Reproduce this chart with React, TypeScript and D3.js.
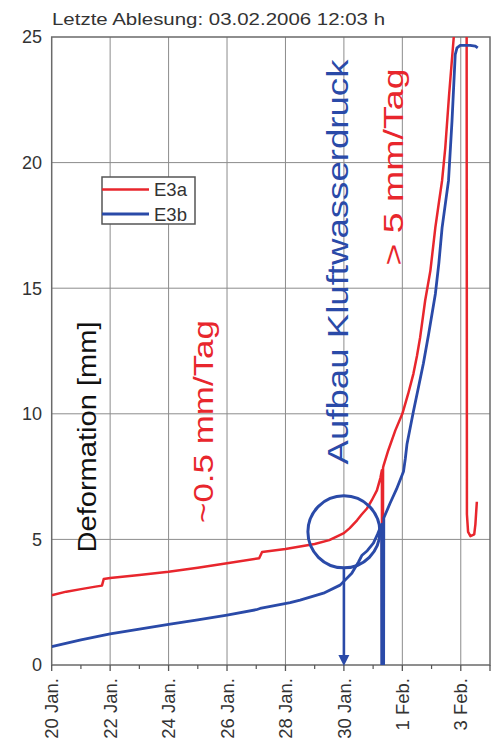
import React from "react";
import * as d3 from "d3";

// ---- data (days since 20 Jan 2006 00:00, deformation in mm) ----
const xTickDays = [0, 2, 4, 6, 8, 10, 12, 14];
const xTickLabels = ["20 Jan.", "22 Jan.", "24 Jan.", "26 Jan.", "28 Jan.", "30 Jan.", "1 Feb.", "3 Feb."];
const xMinorDays = [1, 3, 5, 7, 9, 11, 13];
const yTicks = [0, 5, 10, 15, 20, 25];

const e3aT = [0, 0.5, 1.0, 1.5, 1.72, 1.78, 2.0, 3.0, 4.0, 5.0, 6.0, 7.1, 7.2, 8.0, 8.5, 9.0, 9.5, 10.0, 10.2, 10.45, 10.6, 10.79, 10.95, 11.13, 11.25, 11.3, 11.31, 11.33, 11.34, 11.36, 11.52, 11.76, 12.0, 12.2, 12.38, 12.5, 12.61, 12.78, 12.96, 13.13, 13.25, 13.36, 13.47, 13.6, 13.76, 13.85, 14.2, 14.21, 14.25, 14.33, 14.46, 14.5, 14.55];
const e3aV = [2.78, 2.92, 3.02, 3.12, 3.16, 3.42, 3.46, 3.58, 3.71, 3.87, 4.05, 4.25, 4.5, 4.62, 4.72, 4.82, 4.97, 5.25, 5.45, 5.76, 5.98, 6.23, 6.55, 6.95, 7.45, 7.75, 0, 0, 7.85, 7.95, 8.55, 9.34, 10.0, 10.8, 11.6, 12.3, 13.05, 14.5, 15.7, 17.42, 18.4, 19.28, 20.6, 22.7, 25.0, 27, 27, 6.0, 5.3, 5.13, 5.2, 5.6, 6.5];

const e3bT = [0, 1, 2, 3, 4, 5, 6, 7, 7.13, 8.16, 8.5, 9.3, 9.87, 10.27, 10.5, 10.62, 10.7, 10.8, 11.01, 11.15, 11.29, 11.295, 11.36, 11.365, 11.58, 11.8, 12.04, 12.1, 12.16, 12.38, 12.55, 12.72, 12.9, 13.13, 13.25, 13.36, 13.58, 13.7, 13.81, 13.87, 13.98, 14.32, 14.5, 14.58];
const e3bV = [0.73, 1.0, 1.24, 1.43, 1.62, 1.8, 1.99, 2.2, 2.25, 2.48, 2.58, 2.86, 3.18, 3.65, 4.1, 4.37, 4.45, 4.55, 4.85, 5.2, 5.6, 0, 0, 5.85, 6.44, 7.0, 7.7, 8.2, 8.8, 10.1, 11.05, 12.0, 13.18, 14.77, 16.0, 17.4, 19.28, 21.66, 24.3, 24.57, 24.67, 24.67, 24.64, 24.57];

const seriesNames = ["E3a", "E3b"];
const titleText = "Letzte Ablesung: 03.02.2006 12:03 h";
const yTitle = "Deformation [mm]";
const noteSlow = "~0.5 mm/Tag";
const noteFast = "> 5 mm/Tag";
const noteWater = "Aufbau Kluftwasserdruck";
const circleAt = { t: 10, v: 5.3 };

const RED = "#e8262d";
const BLUE = "#2a4aa8";
const FONT = "'Liberation Sans', Arial, Helvetica, sans-serif";

export default function App() {
  const W = 496, H = 748;
  const left = 51.7, right = 490, top = 37, bottom = 665;
  const x = d3.scaleLinear().domain([0, 15]).range([left, right]);
  const y = d3.scaleLinear().domain([0, 25]).range([bottom, top]);

  const line = d3.line<[number, number]>().x(d => x(d[0])).y(d => y(d[1]));
  const redPts: [number, number][] = e3aT.map((t, i) => [t, e3aV[i]]);
  const bluePts: [number, number][] = e3bT.map((t, i) => [t, e3bV[i]]);

  const cx = x(circleAt.t), cy = y(circleAt.v), r = 36;

  return (
    <svg width={W} height={H} style={{ position: "absolute", left: 0, top: 0, background: "#fff" }} fontFamily={FONT}>
      <defs>
        <clipPath id="plot">
          <rect x={left} y={top} width={right - left} height={bottom - top} />
        </clipPath>
      </defs>
      {/* grid */}
      {xTickDays.slice(1).map(d => (
        <line key={"gx" + d} x1={x(d)} x2={x(d)} y1={top} y2={bottom} stroke="#8c8c8c" strokeWidth={1} />
      ))}
      {yTicks.slice(1, -1).map(v => (
        <line key={"gy" + v} x1={left} x2={right} y1={y(v)} y2={y(v)} stroke="#8c8c8c" strokeWidth={1} />
      ))}
      {/* frame */}
      <rect x={left} y={top} width={right - left} height={bottom - top} fill="none" stroke="#6a6a6a" strokeWidth={1.5} />
      {/* x ticks */}
      {xTickDays.map(d => (
        <line key={"tx" + d} x1={x(d)} x2={x(d)} y1={bottom} y2={bottom + 6} stroke="#555" strokeWidth={1.3} />
      ))}
      {xMinorDays.map(d => (
        <line key={"mx" + d} x1={x(d)} x2={x(d)} y1={bottom} y2={bottom + 4} stroke="#555" strokeWidth={1.2} />
      ))}
      <line x1={x(15)} x2={x(15)} y1={bottom} y2={bottom + 6} stroke="#555" strokeWidth={1.3} />
      {xTickDays.map((d, i) => (
        <text key={"lx" + d} transform={`translate(${x(d)},${678}) rotate(-90)`} textAnchor="end" dy="0.36em" fontSize={18.5} fill="#333">
          {xTickLabels[i]}
        </text>
      ))}
      {/* y ticks */}
      {yTicks.map(v => (
        <text key={"ly" + v} x={42} y={y(v)} dy="0.36em" textAnchor="end" fontSize={18} fill="#333">{v}</text>
      ))}
      {/* title */}
      <text x={52} y={25} fontSize={16.5} fill="#333" textLength={333} lengthAdjust="spacingAndGlyphs">{titleText}</text>
      {/* y title */}
      <text transform={`translate(96,${437}) rotate(-90)`} textAnchor="middle" fontSize={25} fill="#111" textLength={231} lengthAdjust="spacingAndGlyphs">{yTitle}</text>
      {/* annotations */}
      <text transform={`translate(213,${421.5}) rotate(-90)`} textAnchor="middle" fontSize={27} fill={RED} textLength={203} lengthAdjust="spacingAndGlyphs">{noteSlow}</text>
      <text transform={`translate(403,${167}) rotate(-90)`} textAnchor="middle" fontSize={27} fill={RED} textLength={197} lengthAdjust="spacingAndGlyphs">{noteFast}</text>
      <text transform={`translate(348,${262}) rotate(-90)`} textAnchor="middle" fontSize={29} fill={BLUE} textLength={405} lengthAdjust="spacingAndGlyphs">{noteWater}</text>
      {/* series */}
      <g clipPath="url(#plot)">
        <path d={line(redPts) || ""} fill="none" stroke={RED} strokeWidth={2.5} strokeLinejoin="round" />
        <path d={line(bluePts) || ""} fill="none" stroke={BLUE} strokeWidth={2.8} strokeLinejoin="round" />
      </g>
      {/* circle + arrow */}
      <circle cx={cx} cy={cy} r={r} fill="none" stroke={BLUE} strokeWidth={3} />
      <line x1={cx} x2={cx} y1={cy + r} y2={y(0) - 9} stroke={BLUE} strokeWidth={2.6} />
      <path d={`M${cx - 5.5},${y(0) - 10} L${cx + 5.5},${y(0) - 10} L${cx},${y(0) + 1} Z`} fill={BLUE} />
      {/* legend */}
      <rect x={102} y={177} width={93} height={47} fill="#fff" stroke="#555" strokeWidth={1.5} />
      <line x1={102} x2={149} y1={189.5} y2={189.5} stroke={RED} strokeWidth={2.5} />
      <line x1={102} x2={149} y1={214} y2={214} stroke={BLUE} strokeWidth={2.8} />
      <text x={154} y={189.5} dy="0.36em" fontSize={18.5} fill="#333">{seriesNames[0]}</text>
      <text x={154} y={214} dy="0.36em" fontSize={18.5} fill="#333">{seriesNames[1]}</text>
    </svg>
  );
}
